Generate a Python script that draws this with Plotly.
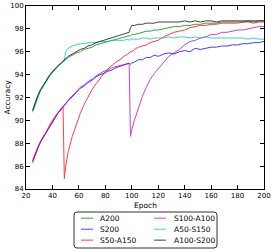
import plotly.graph_objects as go

EPOCHS = [25, 27, 29, 31, 33, 35, 38, 41, 44, 47, 48, 49, 50, 52, 55, 58, 61, 64, 67, 70,
          73, 76, 79, 82, 85, 88, 91, 94, 97, 98, 99, 100, 102, 105, 108, 111, 114, 117, 120,
          124, 128, 132, 136, 140, 144, 148, 152, 156, 160, 164, 168, 172, 176, 180, 184,
          188, 192, 196, 200]

A200 = [90.8, 91.5, 92.1, 92.6, 93.0, 93.4, 93.9, 94.3, 94.7, 95.0, 95.1, 95.2, 95.3, 95.5,
        95.7, 95.9, 96.0, 96.2, 96.3, 96.4, 96.6, 96.7, 96.8, 96.9, 97.0, 97.1, 97.2, 97.3,
        97.4, 97.4, 97.4, 97.5, 97.5, 97.6, 97.7, 97.8, 97.8, 97.9, 97.9, 98.0, 98.1, 98.2,
        98.2, 98.3, 98.3, 98.4, 98.4, 98.5, 98.5, 98.5, 98.6, 98.6, 98.6, 98.6, 98.6, 98.7,
        98.6, 98.7, 98.7]

S200 = [86.4, 87.1, 87.6, 88.1, 88.5, 88.9, 89.5, 90.1, 90.6, 91.0, 91.2, 91.3, 91.5, 91.7,
        92.1, 92.4, 92.8, 93.0, 93.3, 93.5, 93.8, 94.0, 94.1, 94.3, 94.4, 94.6, 94.7, 94.8,
        94.9, 95.0, 94.9, 95.0, 95.1, 95.3, 95.3, 95.5, 95.5, 95.7, 95.6, 95.8, 95.9, 95.8,
        96.0, 96.1, 96.0, 96.3, 96.2, 96.3, 96.4, 96.4, 96.5, 96.5, 96.6, 96.6, 96.7, 96.7,
        96.8, 96.8, 96.9]

S50_A150 = [86.5, 87.1, 87.7, 88.1, 88.6, 88.9, 89.5, 90.1, 90.6, 91.1, 91.2, 84.9, 86.0,
            87.3, 88.6, 89.6, 90.6, 91.4, 92.1, 92.7, 93.2, 93.7, 94.1, 94.5, 94.8, 95.1,
            95.3, 95.6, 95.8, 95.9, 96.0, 96.0, 96.2, 96.4, 96.5, 96.6, 96.8, 96.9, 97.0,
            97.3, 97.5, 97.7, 97.8, 97.9, 98.1, 98.2, 98.3, 98.3, 98.4, 98.4, 98.5, 98.5,
            98.5, 98.5, 98.6, 98.6, 98.5, 98.6, 98.6]

S100_A100 = [86.3, 87.0, 87.7, 88.2, 88.5, 89.0, 89.6, 90.2, 90.7, 91.1, 91.2, 91.3, 91.4,
             91.8, 92.2, 92.5, 92.9, 93.1, 93.4, 93.6, 93.9, 94.1, 94.3, 94.4, 94.6, 94.7,
             94.8, 94.9, 95.0, 95.0, 88.6, 89.2, 90.0, 91.1, 92.1, 92.9, 93.6, 94.1, 94.5,
             95.1, 95.6, 95.9, 96.2, 96.6, 96.9, 97.0, 97.2, 97.3, 97.5, 97.5, 97.7, 97.7,
             97.8, 97.9, 97.9, 98.0, 98.1, 98.2, 98.2]

A50_S150 = [90.7, 91.4, 92.1, 92.6, 93.0, 93.4, 93.9, 94.4, 94.7, 95.0, 95.1, 95.2, 96.0,
            96.3, 96.5, 96.6, 96.7, 96.7, 96.8, 96.8, 96.8, 96.9, 96.9, 96.9, 97.0, 97.0,
            97.0, 97.0, 97.1, 97.0, 97.1, 97.1, 97.1, 97.1, 97.2, 97.2, 97.1, 97.2, 97.2,
            97.2, 97.3, 97.2, 97.3, 97.3, 97.2, 97.3, 97.2, 97.3, 97.2, 97.2, 97.2, 97.2,
            97.2, 97.2, 97.2, 97.1, 97.2, 97.1, 97.1]

A100_S200 = [90.9, 91.6, 92.2, 92.7, 93.1, 93.5, 94.0, 94.4, 94.8, 95.1, 95.2, 95.3, 95.4,
             95.6, 95.8, 96.0, 96.2, 96.3, 96.5, 96.6, 96.8, 96.9, 97.0, 97.1, 97.2, 97.3,
             97.4, 97.5, 97.6, 97.7, 98.1, 98.3, 98.3, 98.4, 98.4, 98.5, 98.5, 98.5, 98.6,
             98.6, 98.6, 98.6, 98.6, 98.7, 98.6, 98.7, 98.6, 98.7, 98.7, 98.6, 98.7, 98.7,
             98.7, 98.7, 98.7, 98.7, 98.7, 98.7, 98.7]

SERIES = [
    ("A200", A200, "#008000"),
    ("S200", S200, "#0000ff"),
    ("S50-A150", S50_A150, "#ff0000"),
    ("S100-A100", S100_A100, "#bf00bf"),
    ("A50-S150", A50_S150, "#00bfbf"),
    ("A100-S200", A100_S200, "#000000"),
]

X_TICKS = [20, 40, 60, 80, 100, 120, 140, 160, 180, 200]
Y_TICKS = [84, 86, 88, 90, 92, 94, 96, 98, 100]

W, H = 274, 252
ML, MR, MT, MB = 26, 10, 6, 63
PW, PH = W - ML - MR, H - MT - MB


def px2paper(px, py):
    return (px - ML) / PW, (H - MB - py) / PH


fig = go.Figure()
for name, vals, color in SERIES:
    fig.add_trace(go.Scatter(x=EPOCHS, y=vals, mode="lines", name=name,
                             line=dict(color=color, width=1), opacity=0.75,
                             showlegend=False))

axis_common = dict(showgrid=False, zeroline=False, showline=True, linecolor="black",
                   linewidth=1, mirror="allticks", ticks="inside", ticklen=4,
                   tickcolor="black", tickfont=dict(size=7, color="black"),
                   automargin=False)

shapes = []
annotations = []

# legend box (rounded)
bx0, by0 = px2paper(74, 248)
bx1, by1 = px2paper(217, 212)
rx, ry = 3 / PW, 3 / PH
path = (f"M {bx0+rx},{by1} L {bx1-rx},{by1} Q {bx1},{by1} {bx1},{by1-ry} "
        f"L {bx1},{by0+ry} Q {bx1},{by0} {bx1-rx},{by0} L {bx0+rx},{by0} "
        f"Q {bx0},{by0} {bx0},{by0+ry} L {bx0},{by1-ry} Q {bx0},{by1} {bx0+rx},{by1} Z")
shapes.append(dict(type="path", xref="paper", yref="paper", path=path,
                   line=dict(color="#333333", width=1), fillcolor="white"))

ROW_Y = [218.3, 229.3, 240.2]
COLS = [(81, 93, 98), (154, 166, 172)]
for i, (name, vals, color) in enumerate(SERIES):
    col, row = divmod(i, 3)
    lx0, lx1, tx = COLS[col]
    y = ROW_Y[row]
    a0, b0 = px2paper(lx0, y)
    a1, _ = px2paper(lx1, y)
    shapes.append(dict(type="line", xref="paper", yref="paper", x0=a0, x1=a1, y0=b0, y1=b0,
                       line=dict(color=color, width=1.5), opacity=0.5))
    t, _ = px2paper(tx, y)
    annotations.append(dict(text=name, xref="paper", yref="paper", x=t, y=b0,
                            xanchor="left", yanchor="middle", showarrow=False,
                            font=dict(size=7.5, color="black")))

ex, ey = px2paper(145, 205)
annotations.append(dict(text="Epoch", xref="paper", yref="paper", x=ex, y=ey,
                        xanchor="center", yanchor="middle", showarrow=False,
                        font=dict(size=7.5, color="black")))
ax_, ay_ = px2paper(7, 97.5)
annotations.append(dict(text="Accuracy", xref="paper", yref="paper", x=ax_, y=ay_,
                        xanchor="center", yanchor="middle", showarrow=False, textangle=-90,
                        font=dict(size=7.5, color="black")))

fig.update_layout(
    width=W, height=H,
    margin=dict(l=ML, r=MR, t=MT, b=MB, autoexpand=False),
    paper_bgcolor="white", plot_bgcolor="white",
    font=dict(family="DejaVu Sans", size=7, color="black"),
    xaxis=dict(range=[20, 200], tickvals=X_TICKS, **axis_common),
    yaxis=dict(range=[84, 100], tickvals=Y_TICKS, **axis_common),
    shapes=shapes,
    annotations=annotations,
    showlegend=False,
)

fig.write_html("out.html", config={"displayModeBar": False},
               post_script="document.body.style.margin='0';document.body.style.overflow='hidden';")
